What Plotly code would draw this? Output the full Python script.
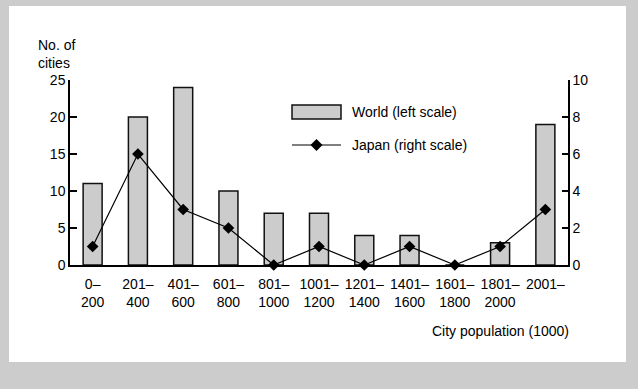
import plotly.graph_objects as go

categories = ["0–<br>200", "201–<br>400", "401–<br>600", "601–<br>800", "801–<br>1000",
              "1001–<br>1200", "1201–<br>1400", "1401–<br>1600", "1601–<br>1800",
              "1801–<br>2000", "2001–"]
world = [11, 20, 24, 10, 7, 7, 4, 4, 0, 3, 19]
japan = [1, 6, 3, 2, 0, 1, 0, 1, 0, 1, 3]
left_ticks = [0, 5, 10, 15, 20, 25]
right_ticks = [0, 2, 4, 6, 8, 10]

W, H = 638, 389
L, R, T, B = 70, 70, 80, 124
pw, ph = W - L - R, H - T - B

def px(x):
    return (x - L) / pw

def py(y):
    return (H - B - y) / ph

FONT = "Liberation Sans, Arial, sans-serif"
FS = 14
idx = list(range(len(categories)))

fig = go.Figure()
fig.add_trace(go.Bar(x=idx, y=world, width=0.42, marker=dict(color="#cccccc", line=dict(color="#111111", width=1.5)),
                     name="World (left scale)", showlegend=False))
fig.add_trace(go.Scatter(x=idx, y=japan, yaxis="y2", mode="lines+markers",
                         line=dict(color="black", width=1.2),
                         marker=dict(symbol="diamond", size=9, color="black"),
                         cliponaxis=False, name="Japan (right scale)", showlegend=False))

shapes = [
    dict(type="rect", xref="paper", yref="paper", x0=px(9), x1=px(626), y0=py(362), y1=py(6),
         fillcolor="white", line=dict(width=0), layer="below"),
    # legend keys
    dict(type="rect", xref="paper", yref="paper", x0=px(292), x1=px(341), y0=py(119), y1=py(105),
         fillcolor="#cccccc", line=dict(color="#111111", width=1.5)),
    dict(type="line", xref="paper", yref="paper", x0=px(292), x1=px(341), y0=py(145), y1=py(145),
         line=dict(color="black", width=1.2)),
]
cx, cy, r = 316.5, 145, 6
shapes.append(dict(type="path", xref="paper", yref="paper",
                   path=f"M {px(cx - r)} {py(cy)} L {px(cx)} {py(cy - r)} L {px(cx + r)} {py(cy)} L {px(cx)} {py(cy + r)} Z",
                   fillcolor="black", line=dict(color="black", width=0)))

annotations = [
    dict(text="World (left scale)", xref="paper", yref="paper", x=px(350), y=py(112),
         xanchor="left", yanchor="middle", showarrow=False),
    dict(text="Japan (right scale)", xref="paper", yref="paper", x=px(350), y=py(145),
         xanchor="left", yanchor="middle", showarrow=False),
    dict(text="No. of<br>cities", xref="paper", yref="paper", x=px(36), y=py(35),
         xanchor="left", yanchor="top", align="left", showarrow=False),
    dict(text="City population (1000)", xref="paper", yref="paper", x=px(571), y=py(331),
         xanchor="right", yanchor="middle", showarrow=False),
]

fig.update_layout(
    width=W, height=H,
    margin=dict(l=L, r=R, t=T, b=B, pad=0),
    paper_bgcolor="#cccccc", plot_bgcolor="rgba(0,0,0,0)",
    font=dict(family=FONT, size=FS, color="black"),
    showlegend=False,
    shapes=shapes, annotations=annotations,
    xaxis=dict(range=[-0.5, 10.5], tickvals=idx, ticktext=categories, showline=True,
               linecolor="black", linewidth=1.5, ticks="", showgrid=False, zeroline=False,
               automargin=False, tickfont=dict(size=FS), tickangle=0, ticklabelstandoff=5),
    yaxis=dict(range=[0, 25], tickvals=left_ticks, ticks="inside", ticklen=7, tickwidth=1.5,
               tickcolor="black", showline=True, linecolor="black", linewidth=1.5,
               showgrid=False, zeroline=False, automargin=False, fixedrange=True),
    yaxis2=dict(range=[0, 10], tickvals=right_ticks, overlaying="y", side="right", ticks="inside",
                ticklen=6, tickwidth=1.5, tickcolor="black", showline=True, linecolor="black",
                linewidth=1.5, showgrid=False, zeroline=False, automargin=False),
)

fig.write_html("out.html", config={"displayModeBar": False},
               post_script="document.body.style.margin='0px';document.body.style.background='#cccccc';")
